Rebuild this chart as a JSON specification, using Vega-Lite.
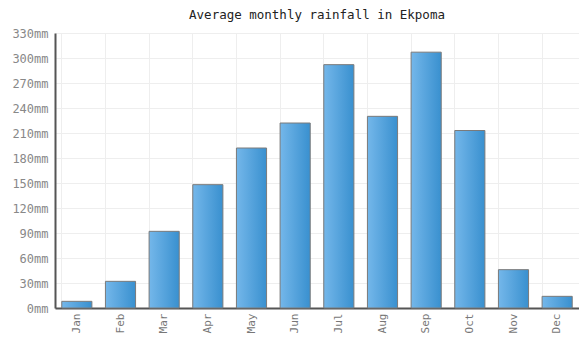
{
  "$schema": "https://vega.github.io/schema/vega-lite/v6.json",
  "autosize": "none",
  "width": 524,
  "height": 275,
  "padding": {"left": 55, "top": 33, "right": 0, "bottom": 29},
  "background": "white",
  "title": {
    "text": "Average monthly rainfall in Ekpoma",
    "font": "DejaVu Sans Mono",
    "fontSize": 12.5,
    "fontWeight": "normal",
    "color": "#222",
    "anchor": "middle",
    "offset": 6
  },
  "data": {
    "values": [
      {"month": "Jan", "rain": 8},
      {"month": "Feb", "rain": 32},
      {"month": "Mar", "rain": 92},
      {"month": "Apr", "rain": 148},
      {"month": "May", "rain": 192},
      {"month": "Jun", "rain": 222},
      {"month": "Jul", "rain": 292},
      {"month": "Aug", "rain": 230},
      {"month": "Sep", "rain": 307},
      {"month": "Oct", "rain": 213},
      {"month": "Nov", "rain": 46},
      {"month": "Dec", "rain": 14}
    ]
  },
  "config": {
    "view": {"stroke": null},
    "axis": {
      "labelFont": "DejaVu Sans Mono",
      "labelFontSize": 11,
      "labelColor": "#777",
      "gridColor": "#eeeeee",
      "gridWidth": 1,
      "domainColor": "#555",
      "domainWidth": 2,
      "ticks": false
    }
  },
  "mark": {
    "type": "bar",
    "stroke": "#7a7a7a",
    "strokeWidth": 1,
    "color": {
      "gradient": "linear",
      "x1": 0, "y1": 0, "x2": 1, "y2": 0,
      "stops": [
        {"offset": 0, "color": "#74b7ea"},
        {"offset": 1, "color": "#3990cf"}
      ]
    }
  },
  "encoding": {
    "x": {
      "field": "month",
      "type": "nominal",
      "sort": null,
      "scale": {"paddingInner": 0.31, "paddingOuter": 0.155},
      "axis": {
        "title": null,
        "labelAngle": -90,
        "labelPadding": 5,
        "grid": true,
        "bandPosition": 0
      }
    },
    "y": {
      "field": "rain",
      "type": "quantitative",
      "scale": {"domain": [0, 330], "nice": false},
      "axis": {
        "title": null,
        "values": [0, 30, 60, 90, 120, 150, 180, 210, 240, 270, 300, 330],
        "labelExpr": "datum.value + 'mm'",
        "labelFontSize": 12,
        "labelColor": "#888",
        "labelPadding": 7,
        "grid": true
      }
    }
  }
}
